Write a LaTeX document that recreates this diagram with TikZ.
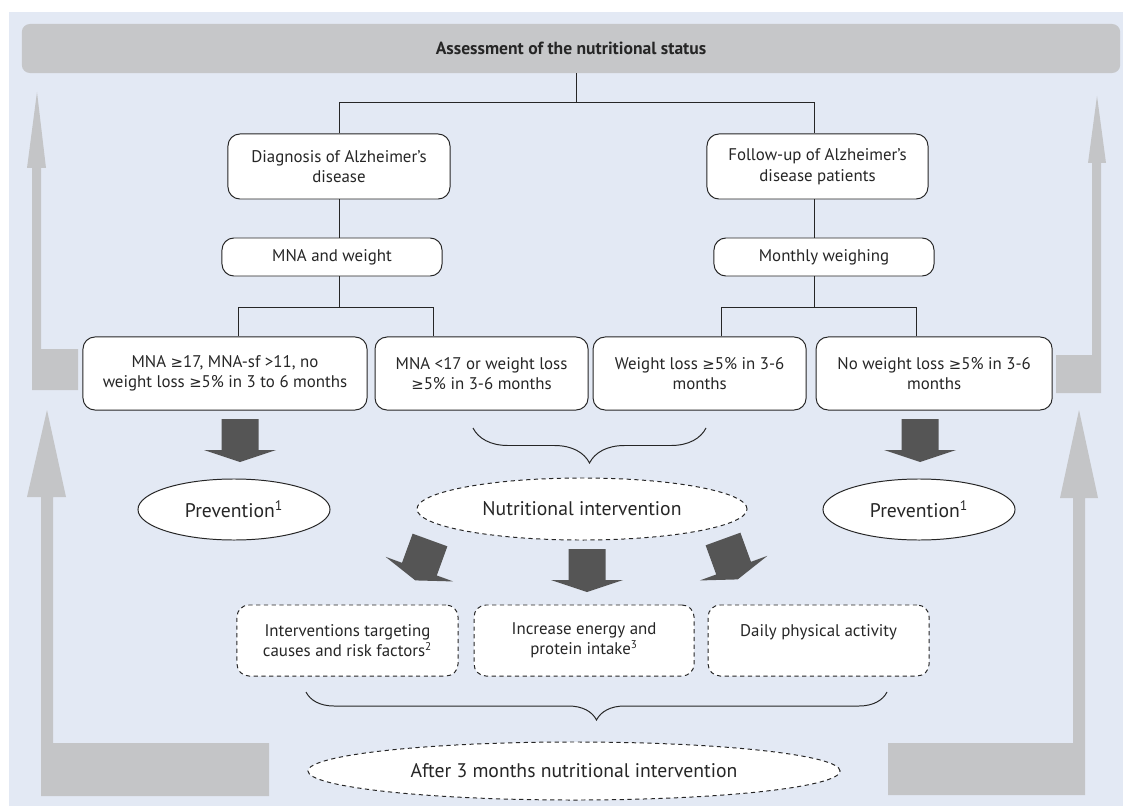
\documentclass[tikz,border=0pt]{standalone}
\usepackage{fontspec}
\setmainfont{PT Sans}
\newfontfamily\symfont[Scale=0.88]{DejaVu Sans}
\usetikzlibrary{positioning, shapes.geometric, decorations.pathreplacing}
\definecolor{panelblue}{RGB}{227,233,244}
\definecolor{bargray}{RGB}{198,199,201}
\definecolor{backgray}{RGB}{196,197,199}
\definecolor{fatgray}{RGB}{85,85,85}
\definecolor{inkgray}{RGB}{38,38,38}
\newcommand{\atleast}{{\symfont ≥}}
\tikzset{
  box/.style={draw=inkgray, rectangle, rounded corners=0.3cm, align=center, fill=white, line width=0.7pt, inner sep=1mm, font=\fontsize{12}{14.5}\selectfont, text=inkgray},
  dashbox/.style={box, dash pattern=on 3pt off 2.5pt},
  oval/.style={draw=inkgray, ellipse, fill=white, inner sep=0pt, line width=0.7pt, font=\fontsize{14}{16}\selectfont, text=inkgray},
  dashoval/.style={oval, dash pattern=on 3pt off 2.5pt},
  link/.style={draw=inkgray, line width=0.7pt},
  backarrow/.style={fill=backgray, draw=none},
  curly/.style={draw=inkgray, line width=0.7pt, decorate, decoration={brace, amplitude=#1}},
  fatarrow/.pic={\fill[fatgray] (-18.5,0) -- (18.5,0) -- (18.5,31) -- (36,31) -- (0,43) -- (-36,31) -- (-18.5,31) -- cycle;}
}

\begin{document}
\begin{tikzpicture}[x=0.025cm, y=-0.025cm]

\useasboundingbox (0,0) rectangle (1123,807);
\fill[panelblue] (9,12) rectangle (1123,806);

% feedback arrows
\fill[backarrow] (78,349) -- (78,390) -- (32,390) -- (32,168) -- (27,168) -- (37,92) -- (46,168) -- (41,168) -- (41,349) -- cycle;
\fill[backarrow] (269,743) -- (269,796) -- (41,796) -- (41,497) -- (27,497) -- (47,410) -- (66,497) -- (53,497) -- (53,743) -- cycle;
\fill[backarrow] (1056,355) -- (1092,355) -- (1092,163) -- (1088,163) -- (1097,96) -- (1106,163) -- (1101,163) -- (1101,393) -- (1056,393) -- cycle;
\fill[backarrow] (888,743) -- (1073,743) -- (1073,498) -- (1060,498) -- (1079,410) -- (1098,498) -- (1085,498) -- (1085,795) -- (888,795) -- cycle;

\node[box, fill=bargray, draw=none, rounded corners=0.2cm, minimum width=27.45cm, minimum height=1.225cm, font=\fontsize{12.5}{14}\selectfont\bfseries] (status) at (571,48.5) {Assessment of the nutritional status};

\node[box, minimum width=5.55cm, minimum height=1.625cm] (diag) at (339,166.5) {Diagnosis of Alzheimer’s\\disease};
\node[box, minimum width=5.525cm, minimum height=1.625cm] (follow) at (817.5,166.5) {Follow-up of Alzheimer’s\\disease patients};
\node[box, minimum width=5.5cm, minimum height=0.95cm] (mna) at (332,257) {MNA and weight};
\node[box, minimum width=5.5cm, minimum height=0.95cm] (weigh) at (824,257) {Monthly weighing};

\node[box, minimum width=7.1cm, minimum height=1.825cm] (noloss) at (225,373.5) {MNA \atleast17, MNA-sf >11, no\\weight loss \atleast5\% in 3 to 6 months};
\node[box, minimum width=5.325cm, minimum height=1.825cm, right=0.175cm of noloss] (lowmna) {MNA <17 or weight loss\\\atleast5\% in 3-6 months};
\node[box, minimum width=5.325cm, minimum height=1.825cm, right=0.1cm of lowmna] (loss) {Weight loss \atleast5\% in 3-6\\months};
\node[box, minimum width=5.9cm, minimum height=1.825cm, right=0.225cm of loss] (nolossfu) {No weight loss \atleast5\% in 3-6\\months};

\node[oval, minimum width=4.8cm, minimum height=1.525cm] (prevleft) at (234,509.5) {Prevention\textsuperscript{1}};
\node[dashoval, minimum width=8.25cm, minimum height=1.55cm] (nutri) at (582,509) {Nutritional intervention};
\node[oval, minimum width=4.8cm, minimum height=1.525cm] (prevright) at (919,509.5) {Prevention\textsuperscript{1}};

\node[dashbox, minimum width=5.525cm, minimum height=1.775cm] (causes) at (347.5,640.5) {Interventions targeting\\causes and risk factors\textsuperscript{2}};
\node[dashbox, minimum width=5.5cm, minimum height=1.775cm, right=0.375cm of causes] (intake) {Increase energy and\\protein intake\textsuperscript{3}};
\node[dashbox, minimum width=5.525cm, minimum height=1.775cm, right=0.325cm of intake] (activity) {Daily physical activity\\\mbox{}};

\node[dashoval, minimum width=13.3cm, minimum height=1.45cm] (after) at (574,771) {After 3 months nutritional intervention};

% tree lines
\draw[link] ([xshift=0.125cm]status.south) -- ++(0,29) coordinate (topsplit);
\draw[link] (diag.north) |- (topsplit) -| ([xshift=-0.075cm]follow.north);
\draw[link] (diag.south) -- (diag.south |- mna.north);
\coordinate (fu) at ([xshift=-0.075cm]follow.south);
\draw[link] (fu) -- (fu |- weigh.north);

\draw[link] (mna.south -| diag.south) -- ++(0,31) coordinate (leftsplit);
\draw[link] ([xshift=0.325cm]noloss.north) |- (leftsplit) -| ([xshift=-1.19cm]lowmna.north);
\draw[link] (fu |- weigh.south) -- ++(0,31) coordinate (rightsplit);
\draw[link] ([xshift=0.55cm]loss.north) |- (rightsplit) -| ([xshift=-0.45cm]nolossfu.north);

% braces
\draw[curly=0.875cm] (706,428) -- (473,428);
\draw[curly=0.7cm] (887,692) -- (306,692);

% fat arrows
\pic at (240,419) {fatarrow};
\pic at (920,419) {fatarrow};
\pic[rotate=-20] at (430,540) {fatarrow};
\pic at (587,549) {fatarrow};
\pic[rotate=20] at (723,539) {fatarrow};

\end{tikzpicture}
\end{document}
